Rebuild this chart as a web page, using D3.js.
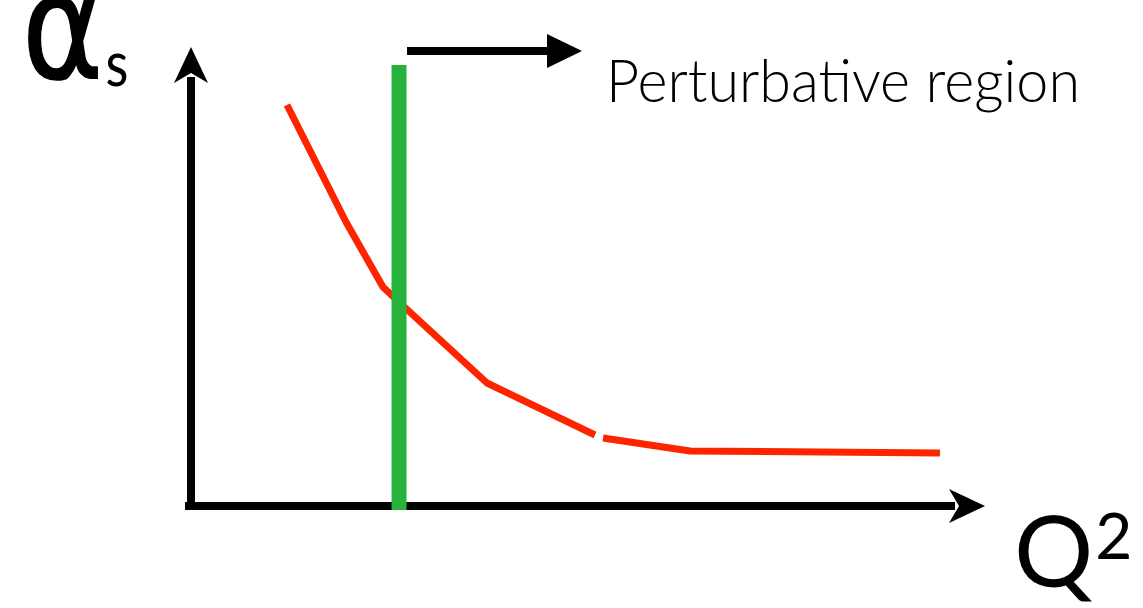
<!DOCTYPE html>
<html>
<head>
<meta charset="utf-8">
<script src="https://cdn.jsdelivr.net/npm/d3@7"></script>
<style>
  html, body { margin: 0; padding: 0; background: #fff; }
  svg { display: block; }
</style>
</head>
<body>
<svg id="chart" width="1143" height="608"></svg>
<script>
// Sketch values (arbitrary units, 0..100 on both axes)
const q2Values = [12.09, 19.14, 19.52, 24.18, 26.32, 37.28, 50.88, null, 51.89, 62.85, 94.33];
const alphaValues = [87.36, 63.18, 61.87, 47.71, 44.23, 26.80, 15.47, null, 14.81, 11.98, 11.55];
const thresholdQ2 = 26.2;
const thresholdTop = 96.1;
const regionLabel = 'Perturbative region';

const svg = d3.select('#chart');

// Scales
const x = d3.scaleLinear().domain([0, 100]).range([191, 985]);
const y = d3.scaleLinear().domain([0, 100]).range([506, 47]);

const black = '#000';
const red = '#ff2400';
const green = '#27b33b';

// Axes with arrowheads
svg.append('line')
  .attr('x1', x(0) - 6).attr('y1', y(0))
  .attr('x2', x(100) - 30).attr('y2', y(0))
  .attr('stroke', black).attr('stroke-width', 8);

svg.append('path')
  .attr('d', `M${x(100)},${y(0)} L${x(100) - 36},${y(0) - 17} L${x(100) - 26},${y(0)} L${x(100) - 36},${y(0) + 17} Z`)
  .attr('fill', black);

svg.append('line')
  .attr('x1', x(0)).attr('y1', y(0) + 4)
  .attr('x2', x(0)).attr('y2', y(100) + 30)
  .attr('stroke', black).attr('stroke-width', 8);

svg.append('path')
  .attr('d', `M${x(0)},${y(100)} L${x(0) - 17},${y(100) + 36} L${x(0)},${y(100) + 26} L${x(0) + 17},${y(100) + 36} Z`)
  .attr('fill', black);

// Red curve (with a small break)
const pts = q2Values.map((q, i) => ({ q, a: alphaValues[i] }));
const line = d3.line()
  .defined(d => d.q !== null)
  .x(d => x(d.q))
  .y(d => y(d.a));

svg.append('path')
  .datum(pts)
  .attr('d', line)
  .attr('fill', 'none')
  .attr('stroke', red)
  .attr('stroke-width', 7)
  .attr('stroke-linejoin', 'round');

// Green threshold
svg.append('line')
  .attr('x1', x(thresholdQ2)).attr('x2', x(thresholdQ2))
  .attr('y1', y(thresholdTop)).attr('y2', y(0) + 4)
  .attr('stroke', green).attr('stroke-width', 15);

// Region arrow
const ax0 = x(thresholdQ2) + 8, ay = 51;
svg.append('line')
  .attr('x1', ax0).attr('y1', ay)
  .attr('x2', ax0 + 145).attr('y2', ay)
  .attr('stroke', black).attr('stroke-width', 8);
svg.append('path')
  .attr('d', `M${ax0 + 175},${ay} L${ax0 + 140},${ay - 17} L${ax0 + 140},${ay + 17} Z`)
  .attr('fill', black);

svg.append('text')
  .attr('x', 606).attr('y', 102)
  .attr('font-family', 'Lato, "Open Sans", sans-serif')
  .attr('font-weight', 300)
  .attr('font-size', 60)
  .attr('textLength', 474)
  .attr('lengthAdjust', 'spacingAndGlyphs')
  .attr('fill', black)
  .text(regionLabel);

// Axis labels
const yLab = svg.append('text')
  .attr('transform', 'translate(22,78) scale(1.1,1.3)')
  .attr('font-family', '"DejaVu Sans", sans-serif')
  .attr('font-size', 112)
  .attr('fill', black);
yLab.append('tspan')
  .attr('stroke', black)
  .attr('stroke-width', 1.2)
  .text('α');
yLab.append('tspan')
  .attr('font-family', 'Lato, sans-serif')
  .attr('font-size', 48)
  .attr('dx', 2)
  .attr('dy', 6)
  .text('s');

const xLab = svg.append('text')
  .attr('x', 1014).attr('y', 587)
  .attr('font-family', 'Lato, "Open Sans", sans-serif')
  .attr('font-size', 99)
  .attr('fill', black);
xLab.append('tspan').text('Q');
xLab.append('tspan').attr('font-size', 64).attr('dy', -28).attr('dx', 2).text('2');
</script>
</body>
</html>
